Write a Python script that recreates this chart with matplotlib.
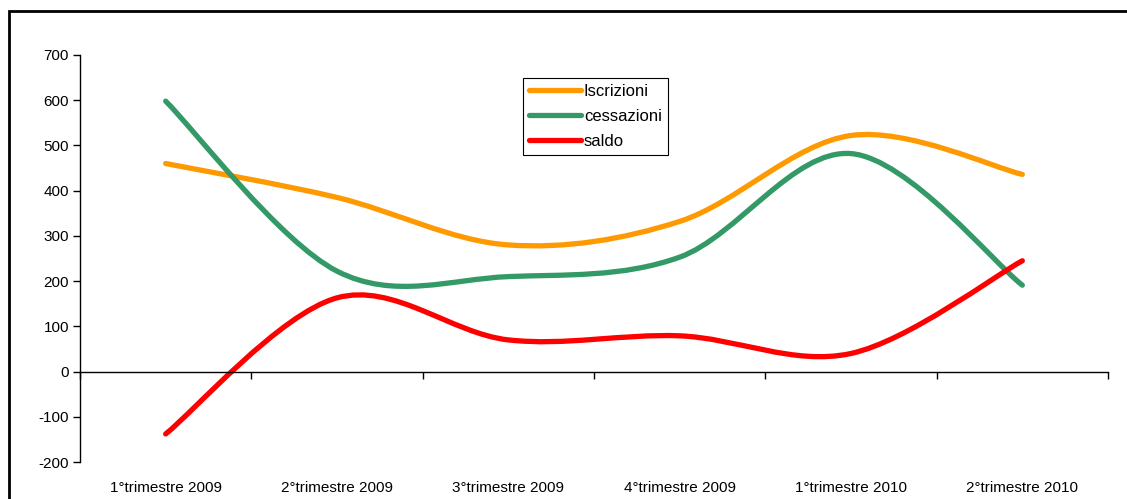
import numpy as np
import matplotlib
matplotlib.use('Agg')
import matplotlib.pyplot as plt
from matplotlib.path import Path
from matplotlib.patches import PathPatch, Rectangle
from matplotlib.lines import Line2D

# dati
trimestri = ['1°trimestre 2009', '2°trimestre 2009', '3°trimestre 2009',
             '4°trimestre 2009', '1°trimestre 2010', '2°trimestre 2010']
iscrizioni = [460, 385, 280, 332, 522, 436]
cessazioni = [598, 222, 210, 253, 482, 191]
saldo = [-138, 163, 70, 79, 40, 245]

serie = [('Iscrizioni', iscrizioni, '#FF9900'),
         ('cessazioni', cessazioni, '#339966'),
         ('saldo', saldo, '#FF0000')]

plt.rcParams['font.family'] = ['Liberation Sans', 'DejaVu Sans']
plt.rcParams['axes.unicode_minus'] = False


def curva_liscia(x, y):
    # linea smussata stile Excel (bezier tipo Catmull-Rom)
    p = np.column_stack([x, y]).astype(float)
    n = len(p)
    verts = [p[0]]
    codes = [Path.MOVETO]
    for i in range(n - 1):
        p0 = p[i - 1] if i > 0 else p[i]
        p1 = p[i]
        p2 = p[i + 1]
        p3 = p[i + 2] if i + 2 < n else p[i + 1]
        verts += [p1 + (p2 - p0) / 6, p2 - (p3 - p1) / 6, p2]
        codes += [Path.CURVE4] * 3
    return Path(verts, codes)


fig = plt.figure(figsize=(11.27, 4.99), dpi=100)
ax = fig.add_axes([80 / 1127, 1 - 462 / 499, 1028 / 1127, 407 / 499])

x = np.arange(len(trimestri))
handles = []
for nome, valori, colore in serie:
    patch = PathPatch(curva_liscia(x, valori), fill=False, edgecolor=colore,
                      lw=3.8, capstyle='round', joinstyle='round')
    ax.add_patch(patch)
    handles.append(Line2D([], [], color=colore, lw=3.8, solid_capstyle='round'))

ax.set_xlim(-0.5, len(trimestri) - 0.5)
ax.set_ylim(-200, 700)
ax.set_yticks(range(-200, 701, 100))
ax.tick_params(axis='y', direction='out', length=5, width=1, labelsize=11, pad=3)

ax.spines['top'].set_visible(False)
ax.spines['right'].set_visible(False)
ax.spines['bottom'].set_position(('data', 0))
ax.spines['left'].set_linewidth(1)
ax.spines['bottom'].set_linewidth(1)
ax.set_xticks(np.arange(-0.5, len(trimestri), 1))
ax.set_xticklabels([])
ax.tick_params(axis='x', direction='out', length=5, width=1)

sec = ax.secondary_xaxis(-0.04)
sec.set_xticks(x)
sec.set_xticklabels(trimestri)
sec.tick_params(length=0, labelsize=11, pad=2)
sec.spines['bottom'].set_visible(False)

leg = ax.legend(handles, [s[0] for s in serie], loc='upper left',
                bbox_to_anchor=(0.431, 0.943), borderaxespad=0, fontsize=12,
                handlelength=3.1, handletextpad=0.2, labelspacing=0.6,
                borderpad=0.35, fancybox=False, framealpha=1)
leg.get_frame().set_edgecolor('black')
leg.get_frame().set_linewidth(0.8)

fig.add_artist(Rectangle((9 / 1127, -0.1), 1.2, 1.1 - 10.5 / 499,
                         transform=fig.transFigure, fill=False,
                         edgecolor='black', lw=2))

fig.savefig('out.png', dpi=100)
